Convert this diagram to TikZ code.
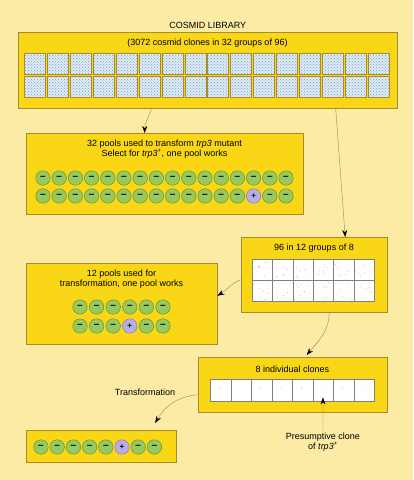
\documentclass[tikz,border=0pt]{standalone}
\usepackage{fontspec}
\setsansfont{Liberation Sans}
\usetikzlibrary{positioning, arrows.meta, patterns}
\definecolor{bgyellow}{HTML}{FCEBA4}
\definecolor{boxgold}{HTML}{F9D616}
\definecolor{boxedge}{HTML}{A88B2E}
\definecolor{cloneblue}{HTML}{DCEBF6}
\definecolor{dotblue}{HTML}{7C9FC4}
\definecolor{circgreen}{HTML}{98C95C}
\definecolor{greenedge}{HTML}{5E8A32}
\definecolor{pluslav}{HTML}{B7ADE8}
\definecolor{plusedge}{HTML}{7E72B5}
\definecolor{arrowline}{HTML}{9A8660}
\definecolor{dotgray}{HTML}{8A9AAE}

\begin{document}
\begin{tikzpicture}[
  x=1pt, y=1pt,
  font=\sffamily\fontsize{9}{10.5}\selectfont,
  box/.style={draw=boxedge, fill=boxgold, anchor=north west, inner sep=0pt},
  txt/.style={align=center, inner sep=1pt},
  clone/.style={
    draw=boxedge, preaction={fill=cloneblue},
    pattern=crosshatch dots, pattern color=dotblue,
    anchor=north west, inner sep=0pt, minimum width=21pt, minimum height=21pt
  },
  cell/.style={draw=gray, fill=white, anchor=north west, inner sep=0pt},
  minus/.style={
    circle, draw=greenedge, fill=circgreen, minimum size=14.5pt, inner sep=0pt,
    font=\sffamily\bfseries\fontsize{10}{10}\selectfont
  },
  plus/.style={minus, draw=plusedge, fill=pluslav, font=\sffamily\bfseries\fontsize{8}{8}\selectfont},
  flow/.style={-{Stealth[length=7pt, width=5pt, color=black]}, draw=arrowline, thin},
]

% Background
\fill[bgyellow] (0,0) rectangle (413,-480);
\useasboundingbox (0,0) rectangle (413,-480);

% Cosmid library: 32 groups of 96
\node[box, minimum width=379pt, minimum height=76pt] (lib) at (18,-32) {};
\node[txt, above=2pt of lib.north] (libtitle) {COSMID LIBRARY};
\node[txt] (libtext) at (207.5,-43) {(3072 cosmid clones in 32 groups of 96)};
\foreach \r/\y in {1/53, 2/76}
  \foreach \i in {0,...,15}
    \node[clone] (g-\r-\i) at ({24+22.93*\i},-\y) {};

% 32 pools, one works
\node[box, minimum width=277pt, minimum height=81pt] (pools32) at (26,-133) {};
\node[txt] (pools32text) at (164.5,-149)
  {32 pools used to transform \textit{trp3} mutant\\Select for \textit{trp3}\textsuperscript{+}, one pool works};
\foreach \i in {0,...,15}
  \node[minus] (a-1-\i) at ({43+16.2*\i},-178) {\textendash};
\foreach \i in {0,...,15}{
  \ifnum\i=13 \node[plus] (a-2-\i) at ({43+16.2*\i},-196) {+};
  \else \node[minus] (a-2-\i) at ({43+16.2*\i},-196) {\textendash};
  \fi
}

% 96 in 12 groups of 8
\node[box, minimum width=146pt, minimum height=75pt] (groups) at (241,-237) {};
\node[txt] (groupstext) at (314,-248) {96 in 12 groups of 8};
\foreach \r/\y in {1/259, 2/280}
  \foreach \i in {0,...,5}
    \node[cell, minimum width=20.33pt, minimum height=21pt] (h-\r-\i) at ({252+20.33*\i},-\y) {};
\pgfmathsetseed{11}
\foreach \r in {1,2}
  \foreach \i in {0,...,5}
    \foreach \k in {1,...,9}{
      \pgfmathsetmacro\rx{1.5+17*rnd}
      \pgfmathsetmacro\ry{1.5+18*rnd}
      \fill[dotgray] ([shift={(\rx,\ry)}]h-\r-\i.south west) circle (0.35pt);
    }

% 12 pools, one works
\node[box, minimum width=191pt, minimum height=81pt] (pools12) at (26,-263) {};
\node[txt] (pools12text) at (121.5,-279) {12 pools used for\\transformation, one pool works};
\foreach \i in {0,...,5}
  \node[minus] (b-1-\i) at ({80+16.6*\i},-307) {\textendash};
\foreach \i in {0,...,5}{
  \ifnum\i=3 \node[plus] (b-2-\i) at ({80+16.6*\i},-326) {+};
  \else \node[minus] (b-2-\i) at ({80+16.6*\i},-326) {\textendash};
  \fi
}

% 8 individual clones
\node[box, minimum width=189pt, minimum height=55pt] (clones) at (198,-357) {};
\node[txt] (clonestext) at (292.5,-369) {8 individual clones};
\foreach \i in {0,...,7}{
  \node[cell, minimum width=20.5pt, minimum height=22pt] (c-\i) at ({210+20.5*\i},-379) {};
  \fill[dotgray] ([shift={(-1pt,2pt)}]c-\i.center) circle (0.35pt);
}
\node[txt] (presum) at (323,-442) {Presumptive clone\\of \textit{trp3}\textsuperscript{+}};

% Final transformation
\node[box, minimum width=150pt, minimum height=32pt] (final) at (26,-430) {};
\foreach \i in {0,...,7}{
  \ifnum\i=5 \node[plus] (f-\i) at ({41+16.2*\i},-447) {+};
  \else \node[minus] (f-\i) at ({41+16.2*\i},-447) {\textendash};
  \fi
}
\node[txt] (translabel) at (145,-392) {Transformation};

% Connectors
\draw[flow] ([xshift=-56pt]lib.south) to[out=250, in=90] ([xshift=-20pt]pools32.north);
\draw[flow] ([xshift=128pt]lib.south) -- ([xshift=31pt]groups.north);
\draw[flow] ([yshift=-5pt]groups.west) to[out=200, in=30] ([yshift=8pt]pools12.east);
\draw[flow] ([xshift=15pt]groups.south) to[out=-90, in=50] ([shift={(14pt,2pt)}]clones.north);
\draw[flow] ([yshift=-10pt]clones.west) to[out=185, in=60] ([shift={(54pt,7pt)}]final.north);
\draw[flow] (presum.north) -- ([yshift=4pt]c-5.south);
\end{tikzpicture}
\end{document}
